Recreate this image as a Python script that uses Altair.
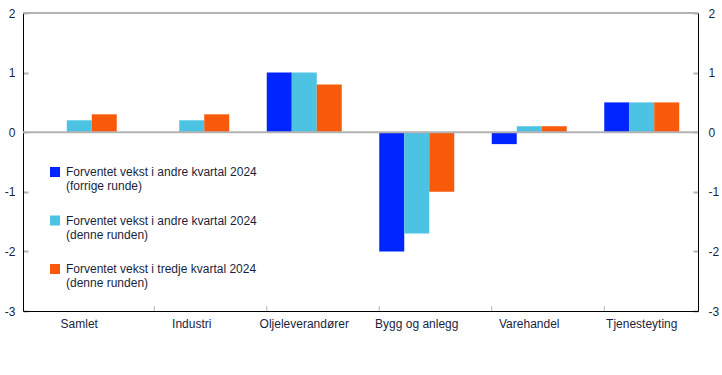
import altair as alt
import pandas as pd

categories = ["Samlet", "Industri", "Oljeleverandører", "Bygg og anlegg", "Varehandel", "Tjenesteyting"]
series_names = [
    "Forventet vekst i andre kvartal 2024|(forrige runde)",
    "Forventet vekst i andre kvartal 2024|(denne runden)",
    "Forventet vekst i tredje kvartal 2024|(denne runden)",
]
s1 = [0.0, 0.0, 1.0, -2.0, -0.2, 0.5]
s2 = [0.2, 0.2, 1.0, -1.7, 0.1, 0.5]
s3 = [0.3, 0.3, 0.8, -1.0, 0.1, 0.5]
colors = ["#0025ff", "#4dc3e4", "#f65a0a"]
y_ticks = [-3, -2, -1, 0, 1, 2]
h_lines = [0, 2]

rows = []
for i, c in enumerate(categories):
    for j, vals in enumerate([s1, s2, s3]):
        rows.append({"cat": c, "series": series_names[j], "order": j, "value": vals[i]})
df = pd.DataFrame(rows)

FONT = "Liberation Sans"
TXT = "#1a1f3c"
W, H = 675, 298
LBL = "'' + datum.value"

xscale = alt.Scale(domain=categories, paddingInner=1/3, paddingOuter=1/6)
yscale = alt.Scale(domain=[-3, 2], nice=False)

bars = alt.Chart(df).mark_bar().encode(
    x=alt.X("cat:N", scale=xscale, sort=categories,
            axis=alt.Axis(title=None, labelAngle=0, ticks=False, domain=True,
                          domainColor="#000000", domainWidth=1,
                          labelFont=FONT, labelFontSize=12, labelColor=TXT, labelPadding=7)),
    xOffset=alt.XOffset("order:O", scale=alt.Scale(paddingInner=0, paddingOuter=0)),
    y=alt.Y("value:Q", scale=yscale,
            axis=alt.Axis(title=None, values=y_ticks, ticks=False, domain=True,
                          domainColor="#000000", domainWidth=1,
                          grid=True, gridColor="#b3b3b3", gridWidth=2,
                          gridDash=[5, W - 10, 5], labelExpr=LBL,
                          labelFont=FONT, labelFontSize=12, labelColor=TXT, labelPadding=8)),
    color=alt.Color("series:N", sort=series_names,
                    scale=alt.Scale(domain=series_names, range=colors),
                    legend=alt.Legend(title=None, orient="none", legendX=26, legendY=153,
                                      direction="vertical",
                                      symbolType="square", symbolSize=100, symbolStrokeWidth=0,
                                      labelExpr="split(datum.label, '|')",
                                      labelFont=FONT, labelFontSize=12, labelColor=TXT,
                                      labelLimit=400, rowPadding=22.5, labelOffset=5)),
)

hl = alt.Chart(pd.DataFrame({"v": h_lines})).mark_rule(color="#b3b3b3", strokeWidth=2).encode(
    y=alt.Y("v:Q", scale=yscale, axis=None)
)

xt = alt.Chart(pd.DataFrame({"cat": categories[1:]})).mark_rule(color="#b3b3b3", strokeWidth=1).encode(
    x=alt.X("cat:N", scale=xscale, sort=categories, bandPosition=0),
    y=alt.Y(datum=-3, scale=yscale, axis=None),
    y2=alt.datum(-2.92),
)

right = alt.Chart(pd.DataFrame({"v": y_ticks})).mark_tick(opacity=0).encode(
    y=alt.Y("v:Q", scale=yscale,
            axis=alt.Axis(orient="right", title=None, values=y_ticks, ticks=False, grid=False,
                          domain=True, domainColor="#000000", domainWidth=1, labelExpr=LBL,
                          labelFont=FONT, labelFontSize=12, labelColor=TXT, labelPadding=10))
)

chart = alt.layer(bars, hl, xt, right).resolve_scale(y="independent").properties(
    width=W, height=H,
    autosize=alt.AutoSizeParams(type="none"),
    padding={"left": 23, "top": 13, "right": 24, "bottom": 64},
).configure(background="white", style={"guide-label": {"lineHeight": 14}}).configure_view(stroke=None)

chart.save("out.html", embed_options={"renderer": "svg", "actions": False})
